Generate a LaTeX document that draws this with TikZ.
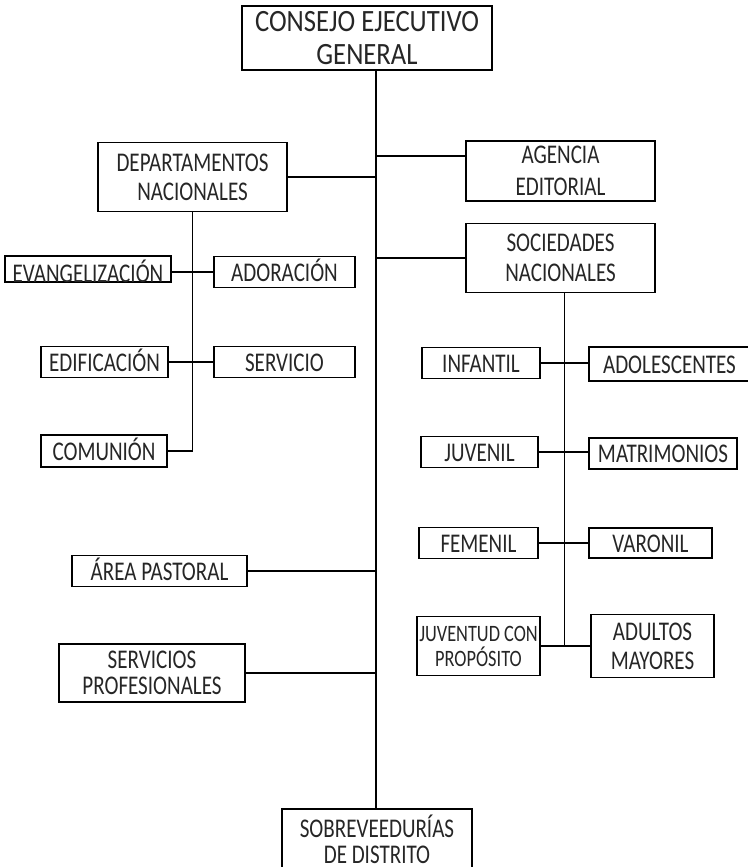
\documentclass[tikz,border=0pt]{standalone}
\usepackage{fontspec}
\setmainfont[FakeStretch=0.78]{Carlito}
\newfontfamily\titlefont[FakeStretch=0.86]{Carlito}
\begin{document}
\begin{tikzpicture}[x=1pt,y=-1pt,
    box/.style={draw,line width=1.8pt,align=center,inner sep=1pt,
      text=black!85,font=\fontsize{27}{29}\selectfont},
    single/.style={box,text height=18pt,text depth=0pt},
    every path/.style={line width=1.8pt}]
      \useasboundingbox (0,0) rectangle (747,867);
      \coordinate (spine) at (376,70);
      \draw
        (367,38) node[box,minimum width=250,minimum height=64,
          font=\titlefont\fontsize{31}{33}\selectfont] (consejo){CONSEJO EJECUTIVO\\GENERAL}
        (192.5,177) node[box,minimum width=189,minimum height=69] (dept){DEPARTAMENTOS\\NACIONALES}
        (88,269) node[box,minimum width=166,minimum height=26,inner ysep=0pt,
          text height=26pt,text depth=0pt] (evang){EVANGELIZACIÓN}
        (284.5,272) node[single,minimum width=141,minimum height=31] (ador){ADORACIÓN}
        (104.5,362) node[single,minimum width=127,minimum height=31] (edif){EDIFICACIÓN}
        (284.5,362) node[single,minimum width=141,minimum height=31] (serv){SERVICIO}
        (104,451) node[single,minimum width=126,minimum height=32] (comun){COMUNIÓN}
        (560.5,171) node[box,minimum width=189,minimum height=60,
          font=\fontsize{27}{32}\selectfont] (agencia){AGENCIA\\EDITORIAL}
        (560.5,258) node[box,minimum width=189,minimum height=69,
          font=\fontsize{27}{30}\selectfont] (soc){SOCIEDADES\\NACIONALES}
        (481,363) node[single,minimum width=118,minimum height=31] (infantil){INFANTIL}
        (669.5,364) node[single,minimum width=161,minimum height=34] (adol){ADOLESCENTES}
        (479.5,452) node[single,minimum width=117,minimum height=31] (juvenil){JUVENIL}
        (663,453.5) node[single,minimum width=148,minimum height=31] (matri){MATRIMONIOS}
        (478.5,543) node[single,minimum width=119,minimum height=31] (femenil){FEMENIL}
        (650.5,543) node[single,minimum width=123,minimum height=30] (varonil){VARONIL}
        (478.5,646) node[box,minimum width=123,minimum height=59,
          font=\fontsize{23.5}{25}\selectfont] (juvprop){JUVENTUD CON\\PROPÓSITO}
        (652.5,646) node[box,minimum width=123,minimum height=63] (adultos){ADULTOS\\MAYORES}
        (159.5,571) node[single,minimum width=175,minimum height=31] (area){ÁREA PASTORAL}
        (152,673) node[box,minimum width=186,minimum height=58,
          font=\fontsize{27}{26}\selectfont] (servprof){SERVICIOS\\PROFESIONALES}
        (377,839) node[box,minimum width=190,minimum height=60,
          font=\fontsize{27}{26}\selectfont] (sobre){SOBREVEEDURÍAS\\DE DISTRITO};
      \begin{scope}[-]
        \draw (consejo.south -| spine) to (sobre.north -| spine);
        \draw (dept.east) to (dept.east -| spine);
        \draw ([yshift=15pt]agencia.west) to ([yshift=15pt]agencia.west -| spine);
        \draw (soc.west) to (soc.west -| spine);
        \draw (area.east) to (area.east -| spine);
        \draw (servprof.east) to (servprof.east -| spine);
        \draw (dept.south) |- (comun.east);
        \draw (evang.east |- ador.west) to (ador.west);
        \draw (edif) to (serv);
        \draw ([xshift=4pt]soc.south) to ([xshift=4pt]soc.south |- juvprop.east);
        \draw (infantil.east) to (infantil.east -| adol.west);
        \draw (juvenil.east) to (juvenil.east -| matri.west);
        \draw (femenil.east) to (femenil.east -| varonil.west);
        \draw (juvprop) to (adultos);
      \end{scope}
    \end{tikzpicture}
\end{document}
